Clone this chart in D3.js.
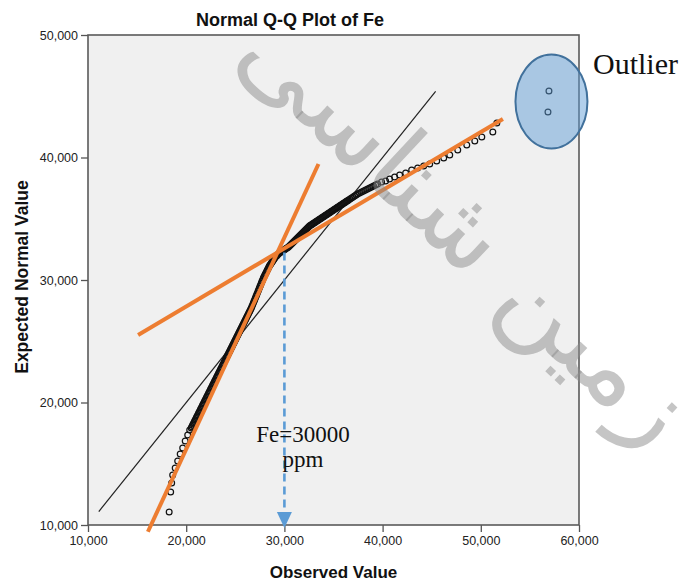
<!DOCTYPE html>
<html>
<head>
<meta charset="utf-8">
<script src="https://cdn.jsdelivr.net/npm/d3@7"></script>
<style>
  html, body { margin: 0; padding: 0; background: #fff; }
  svg { display: block; }
</style>
</head>
<body>
<svg id="chart" width="686" height="582"></svg>
<script>
// Normal Q-Q plot of Fe (ppm): observed value vs. expected normal value
const observed = [
  18265, 18418, 18520, 18622, 18877, 19133, 19388, 19643, 19898, 20153, 20357,
  20510, 20575, 20648, 20714, 20780, 20851, 20918, 20985, 21052, 21122, 21190,
  21258, 21326, 21395, 21462, 21531, 21600, 21666, 21735, 21802, 21870, 21939,
  22005, 22075, 22143, 22210, 22280, 22347, 22415, 22482, 22551, 22620, 22688,
  22755, 22822, 22890, 22959, 23028, 23096, 23163, 23230, 23300, 23367, 23435,
  23503, 23571, 23640, 23708, 23775, 23842, 23910, 23979, 24048, 24115, 24184,
  24250, 24320, 24388, 24455, 24525, 24592, 24660, 24728, 24796, 24865, 24932,
  25000, 25068, 25135, 25204, 25272, 25340, 25408, 25475, 25545, 25612, 25680,
  25748, 25816, 25885, 25952, 26020, 26088, 26155, 26224, 26292, 26360, 26428,
  26495, 26565, 26633, 26700, 26770, 26837, 26905, 26972, 27041, 27110, 27178,
  27245, 27312, 27380, 27449, 27518, 27585, 27653, 27720, 27790, 27857, 27925,
  27992, 28061, 28130, 28198, 28265, 28332, 28400, 28469, 28536, 28605, 28673,
  28740, 28810, 28877, 28945, 29012, 29081, 29150, 29218, 29286,
  29388, 29490, 29592, 29694, 29796, 29898, 30000, 30102, 30204, 30306, 30408,
  30510, 30612, 30714, 30816, 30918, 31020, 31122, 31224, 31326, 31428, 31530,
  31633, 31735, 31837, 31939, 32041, 32143, 32245, 32347, 32449, 32551, 32653,
  32755, 32857, 32959, 33061, 33163, 33265, 33367, 33469, 33571, 33673, 33775,
  33877, 33979, 34081, 34183, 34286, 34388, 34490, 34592, 34694, 34796, 34898,
  35000, 35102, 35204, 35306, 35408, 35510, 35612, 35714, 35816, 35918, 36020,
  36122, 36224, 36326, 36428, 36530, 36683, 36837, 36990, 37143, 37296, 37449,
  37653, 37857, 38061, 38265, 38469, 38673, 38877, 39081, 39285, 39490,
  39898, 40306, 40714, 41224, 41735, 42347, 42959, 43571, 44184, 44796, 45510,
  46224, 46837, 47653, 48571, 49388, 50102, 51224, 51633
];
const expected = [
  11061, 12694, 13428, 14082, 14653, 15224, 15796, 16286, 16857, 17347, 17755,
  17918, 18025, 18138, 18245, 18350, 18462, 18571, 18680, 18790, 18898, 19005,
  19118, 19224, 19332, 19440, 19551, 19660, 19768, 19877, 19985, 20095, 20204,
  20312, 20420, 20530, 20640, 20748, 20857, 20965, 21075, 21183, 21290, 21400,
  21510, 21618, 21728, 21836, 21945, 22055, 22163, 22270, 22380, 22489, 22598,
  22705, 22816, 22925, 23032, 23142, 23250, 23360, 23469, 23578, 23688, 23795,
  23905, 24012, 24122, 24230, 24340, 24449, 24556, 24668, 24775, 24884, 24992,
  25102, 25210, 25320, 25428, 25536, 25645, 25755, 25862, 25972, 26081, 26190,
  26298, 26408, 26515, 26625, 26734, 26842, 26952, 27061, 27170, 27278, 27387,
  27495, 27605, 27714, 27850, 27985, 28122, 28258, 28395, 28530, 28665, 28802,
  28938, 29075, 29210, 29346, 29482, 29618, 29754, 29890, 30028, 30163, 30272,
  30380, 30489, 30598, 30708, 30816, 30925, 31034, 31142, 31225, 31305, 31387,
  31470, 31550, 31632, 31715, 31795, 31877, 31932, 31986, 32040,
  32120, 32203, 32258, 32312, 32367, 32420, 32476, 32530, 32585, 32638, 32693,
  32775, 32856, 32938, 33020, 33100, 33183, 33265, 33346, 33428, 33510, 33590,
  33673, 33755, 33836, 33918, 34000, 34080, 34162, 34244, 34325, 34407, 34462,
  34516, 34571, 34625, 34680, 34734, 34788, 34843, 34897, 34951, 35006, 35060,
  35115, 35170, 35224, 35278, 35333, 35387, 35441, 35496, 35550, 35604, 35659,
  35713, 35768, 35822, 35877, 35931, 35986, 36040, 36094, 36149, 36203, 36257,
  36312, 36366, 36420, 36475, 36530, 36612, 36693, 36775, 36856, 36938, 37020,
  37101, 37183, 37265, 37346, 37428, 37509, 37591, 37673, 37755, 37836,
  37999, 38081, 38244, 38407, 38571, 38734, 38979, 39142, 39305, 39468, 39713,
  39958, 40203, 40611, 41019, 41346, 41672, 42081, 42815
];
const outlierObserved = [56940, 56840];
const outlierExpected = [45430, 43710];

const xTicks = [10000, 20000, 30000, 40000, 50000, 60000];
const yTicks = [10000, 20000, 30000, 40000, 50000];

// reference line (expected = observed) and the two fitted trend segments
const refLine = [[11100, 11100], [45400, 45400]];
const lowerFit = [[16100, 9450], [33470, 39470]];
const upperFit = [[15100, 25510], [52250, 43150]];

// threshold where the two trends meet
const threshold = 30000;
const thresholdTop = 32250;

const titleText = "Normal Q-Q Plot of Fe";
const xTitle = "Observed Value";
const yTitle = "Expected Normal Value";
const thresholdLabel = ["Fe=30000", "ppm"];
const outlierLabel = "Outlier";
const watermark = "زمین شناسی";

const svg = d3.select("#chart");
const plot = { left: 88, right: 579, top: 35, bottom: 525 };

const x = d3.scaleLinear().domain([10000, 60000]).range([plot.left, plot.right]);
const y = d3.scaleLinear().domain([10000, 50000]).range([plot.bottom, plot.top]);

const sans = "'Liberation Sans', Arial, sans-serif";
const serif = "'Liberation Serif', 'Times New Roman', serif";

// plot background
svg.append("rect")
  .attr("x", plot.left).attr("y", plot.top)
  .attr("width", plot.right - plot.left).attr("height", plot.bottom - plot.top)
  .attr("fill", "#f0f0f0");

// axes
const fmt = d3.format(",");
const xAxis = svg.append("g")
  .attr("transform", `translate(0,${plot.bottom})`)
  .call(d3.axisBottom(x).tickValues(xTicks).tickSize(7).tickPadding(4).tickFormat(fmt));
const yAxis = svg.append("g")
  .attr("transform", `translate(${plot.left},0)`)
  .call(d3.axisLeft(y).tickValues(yTicks).tickSize(7).tickPadding(3).tickFormat(fmt));
[xAxis, yAxis].forEach(g => {
  g.select(".domain").remove();
  g.selectAll(".tick line").attr("stroke", "#555").attr("stroke-width", 1.3);
  g.selectAll(".tick text")
    .attr("fill", "#222")
    .style("font-family", sans)
    .style("font-size", "12.5px");
});

// plot frame
svg.append("rect")
  .attr("x", plot.left).attr("y", plot.top)
  .attr("width", plot.right - plot.left).attr("height", plot.bottom - plot.top)
  .attr("fill", "none").attr("stroke", "#5a5a5a").attr("stroke-width", 1.6);

const line = d3.line().x(d => x(d[0])).y(d => y(d[1]));

// expected = observed reference
svg.append("path").datum(refLine).attr("d", line)
  .attr("stroke", "#222").attr("stroke-width", 1.2).attr("fill", "none");

// data points
const pts = observed.map((v, i) => [v, expected[i]]);
svg.append("g").selectAll("circle").data(pts).join("circle")
  .attr("cx", d => x(d[0])).attr("cy", d => y(d[1])).attr("r", 2.9)
  .attr("fill", "none").attr("stroke", "#111").attr("stroke-width", 1.2);

// fitted trend segments
[lowerFit, upperFit].forEach(seg => {
  svg.append("path").datum(seg).attr("d", line)
    .attr("stroke", "#ed7d31").attr("stroke-width", 4).attr("fill", "none");
});

// threshold arrow down to the x axis
const ax = x(threshold);
svg.append("line")
  .attr("x1", ax).attr("x2", ax)
  .attr("y1", y(thresholdTop)).attr("y2", plot.bottom - 12)
  .attr("stroke", "#5b9bd5").attr("stroke-width", 2.6)
  .attr("stroke-dasharray", "8,5");
svg.append("path")
  .attr("d", `M${ax - 7.5},${plot.bottom - 13} L${ax + 7.5},${plot.bottom - 13} L${ax},${plot.bottom + 3} Z`)
  .attr("fill", "#5b9bd5");

svg.append("text")
  .attr("x", 303).attr("y", 442)
  .attr("text-anchor", "middle")
  .style("font-family", serif).style("font-size", "23px").attr("fill", "#111")
  .text(thresholdLabel[0]);
svg.append("text")
  .attr("x", 303).attr("y", 467)
  .attr("text-anchor", "middle")
  .style("font-family", serif).style("font-size", "23px").attr("fill", "#111")
  .text(thresholdLabel[1]);

// outliers
const oPts = outlierObserved.map((v, i) => [v, outlierExpected[i]]);
svg.append("g").selectAll("circle").data(oPts).join("circle")
  .attr("cx", d => x(d[0])).attr("cy", d => y(d[1])).attr("r", 2.9)
  .attr("fill", "none").attr("stroke", "#111").attr("stroke-width", 1.2);
const ocx = d3.mean(oPts, d => x(d[0])) + 3;
const ocy = d3.mean(oPts, d => y(d[1]));
svg.append("ellipse")
  .attr("cx", ocx).attr("cy", ocy).attr("rx", 36).attr("ry", 47)
  .attr("fill", "#5b9bd5").attr("fill-opacity", 0.48)
  .attr("stroke", "#41719c").attr("stroke-width", 2);
svg.append("text")
  .attr("x", 593).attr("y", 74)
  .style("font-family", serif).style("font-size", "30px").attr("fill", "#111")
  .text(outlierLabel);

// titles
svg.append("text")
  .attr("x", 290).attr("y", 26).attr("text-anchor", "middle")
  .style("font-family", sans).style("font-size", "18px").style("font-weight", "bold")
  .attr("fill", "#111")
  .text(titleText);
svg.append("text")
  .attr("x", (plot.left + plot.right) / 2).attr("y", 578).attr("text-anchor", "middle")
  .style("font-family", sans).style("font-size", "17px").style("font-weight", "bold")
  .attr("fill", "#111")
  .text(xTitle);
svg.append("text")
  .attr("transform", `translate(28,${277}) rotate(-90)`).attr("text-anchor", "middle")
  .style("font-family", sans).style("font-size", "17.5px").style("font-weight", "bold")
  .attr("fill", "#111")
  .text(yTitle);

// diagonal watermark across the chart
svg.append("text")
  .attr("transform", "translate(462,234) rotate(43)")
  .attr("text-anchor", "middle").attr("dominant-baseline", "middle")
  .style("font-family", "'DejaVu Sans', sans-serif").style("font-size", "104px")
  .attr("fill", "#8c8c8c").attr("fill-opacity", 0.5)
  .text(watermark);
</script>
</body>
</html>
